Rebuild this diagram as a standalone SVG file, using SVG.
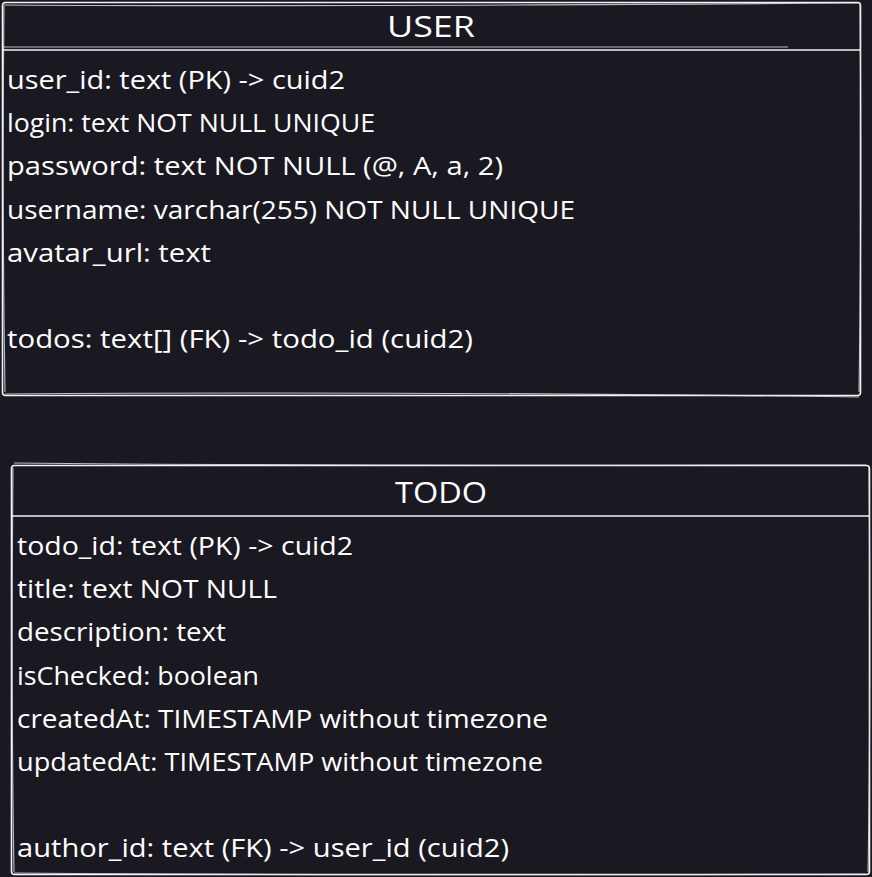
<svg xmlns="http://www.w3.org/2000/svg" width="872" height="877" viewBox="0 0 872 877">
<style>
.bg{fill:#1a1820}
.box{fill:#1a1820;stroke:#f2f2f2;stroke-width:1.6}
.sk{fill:none;stroke:#e6e6e6;stroke-width:1.1;opacity:0.8}
.t{font-family:"Open Sans","Liberation Sans",sans-serif;font-size:26px;fill:#ffffff}
.h{font-family:"Open Sans","Liberation Sans",sans-serif;font-size:29px;fill:#ffffff;text-anchor:middle}
</style>
<rect class="bg" x="0" y="0" width="872" height="877"/>
<g id="user">
<rect class="box" x="2.5" y="2.5" width="858" height="393" rx="3"/>
<path class="sk" d="M4 5 Q300 7 858 3 M5 394 Q400 391 859 397 M860 5 Q862 200 859 392 M4 6 Q2 200 5 392"/>
<line x1="2.5" y1="50" x2="860.5" y2="50" stroke="#f2f2f2" stroke-width="1.4"/>
<path class="sk" d="M3 47 Q400 46 788 47"/>
<text class="h" x="431" y="37" textLength="88" lengthAdjust="spacingAndGlyphs">USER</text>
<text class="t" x="7" y="89" textLength="338" lengthAdjust="spacingAndGlyphs">user_id: text (PK) -&gt; cuid2</text>
<text class="t" x="7" y="132" textLength="368" lengthAdjust="spacingAndGlyphs">login: text NOT NULL UNIQUE</text>
<text class="t" x="7" y="175" textLength="496" lengthAdjust="spacingAndGlyphs">password: text NOT NULL (@, A, a, 2)</text>
<text class="t" x="7" y="219" textLength="568" lengthAdjust="spacingAndGlyphs">username: varchar(255) NOT NULL UNIQUE</text>
<text class="t" x="7" y="262" textLength="204" lengthAdjust="spacingAndGlyphs">avatar_url: text</text>
<text class="t" x="7" y="348" textLength="466" lengthAdjust="spacingAndGlyphs">todos: text[] (FK) -&gt; todo_id (cuid2)</text>
</g>
<g id="todo">
<rect class="box" x="11.5" y="465.5" width="858" height="409" rx="3"/>
<path class="sk" d="M14 463 Q300 466 866 465 M14 873 Q400 876 866 874 M869 468 Q871 700 868 872 M13 468 Q11 700 14 872"/>
<line x1="11.5" y1="516" x2="869.5" y2="516" stroke="#f2f2f2" stroke-width="1.4"/>
<text class="h" x="441" y="503" textLength="92" lengthAdjust="spacingAndGlyphs">TODO</text>
<text class="t" x="17" y="555" textLength="336" lengthAdjust="spacingAndGlyphs">todo_id: text (PK) -&gt; cuid2</text>
<text class="t" x="17" y="598" textLength="260" lengthAdjust="spacingAndGlyphs">title: text NOT NULL</text>
<text class="t" x="17" y="641" textLength="209" lengthAdjust="spacingAndGlyphs">description: text</text>
<text class="t" x="17" y="685" textLength="242" lengthAdjust="spacingAndGlyphs">isChecked: boolean</text>
<text class="t" x="17" y="728" textLength="531" lengthAdjust="spacingAndGlyphs">createdAt: TIMESTAMP without timezone</text>
<text class="t" x="17" y="771" textLength="526" lengthAdjust="spacingAndGlyphs">updatedAt: TIMESTAMP without timezone</text>
<text class="t" x="17" y="857" textLength="492" lengthAdjust="spacingAndGlyphs">author_id: text (FK) -&gt; user_id (cuid2)</text>
</g>
<g id="connectors"></g>
</svg>
